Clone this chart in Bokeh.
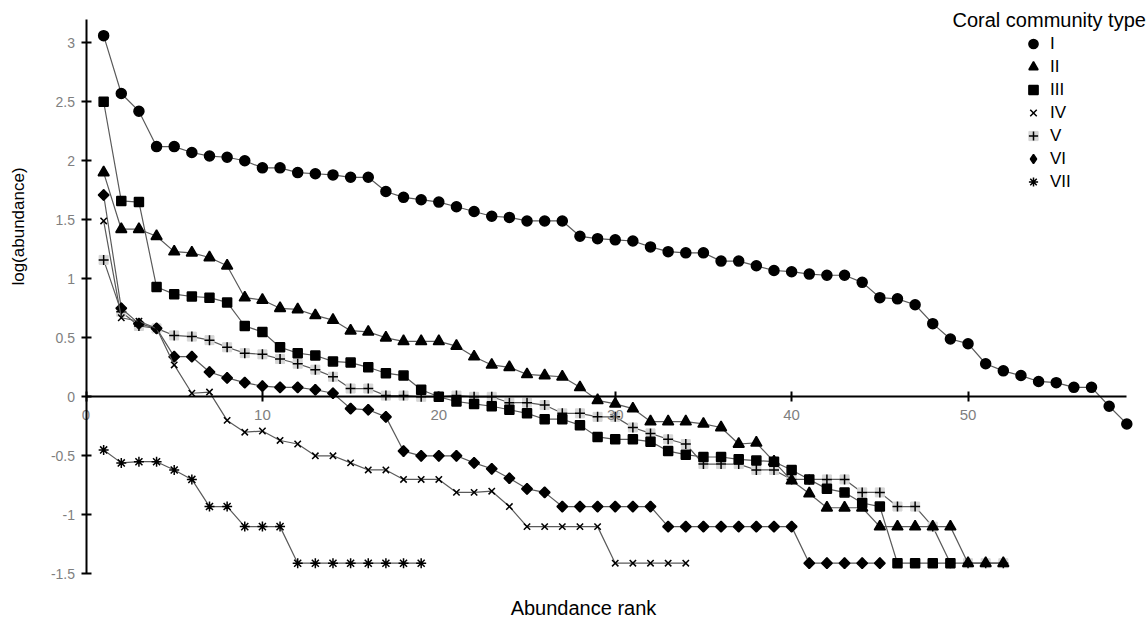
import math
from bokeh.plotting import figure
from bokeh.models import (LinearAxis, FixedTicker, NumeralTickFormatter, Legend,
                          LegendItem, Label)
from bokeh.embed import file_html
from bokeh.resources import INLINE

# ---------------- data ----------------
community_types = ["I", "II", "III", "IV", "V", "VI", "VII"]

log_abund_I = [3.06, 2.57, 2.42, 2.12, 2.12, 2.07, 2.04, 2.03, 2.00, 1.94, 1.94, 1.90, 1.89, 1.88, 1.86, 1.86,
               1.74, 1.69, 1.67, 1.65, 1.61, 1.57, 1.53, 1.52, 1.49, 1.49, 1.49, 1.36, 1.34, 1.33, 1.32, 1.27, 1.23,
               1.22, 1.22, 1.15, 1.15, 1.11, 1.07, 1.06, 1.04, 1.03, 1.03, 0.97, 0.84, 0.83, 0.78, 0.62, 0.49,
               0.45, 0.28, 0.22, 0.18, 0.13, 0.12, 0.08, 0.08, -0.08, -0.23]

log_abund_II = [1.90, 1.42, 1.42, 1.36, 1.23, 1.22, 1.18, 1.11, 0.84, 0.82, 0.75, 0.74, 0.69, 0.65, 0.56, 0.55,
                0.50, 0.47, 0.47, 0.47, 0.43, 0.34, 0.27, 0.25, 0.19, 0.18, 0.17, 0.08, -0.03, -0.06, -0.10,
                -0.21, -0.21, -0.21, -0.23, -0.26, -0.40, -0.39, -0.55, -0.71, -0.82, -0.94, -0.94, -0.94,
                -1.10, -1.10, -1.10, -1.10, -1.10, -1.41, -1.41, -1.41]

log_abund_III = [2.50, 1.66, 1.65, 0.93, 0.87, 0.85, 0.84, 0.80, 0.60, 0.55, 0.42, 0.37, 0.35, 0.30, 0.29, 0.25,
                 0.20, 0.18, 0.06, 0.00, -0.04, -0.06, -0.08, -0.11, -0.14, -0.19, -0.19, -0.24, -0.34, -0.36,
                 -0.36, -0.38, -0.46, -0.49, -0.51, -0.51, -0.53, -0.54, -0.55, -0.62, -0.70, -0.78, -0.81,
                 -0.90, -0.93, -1.41, -1.41, -1.41, -1.41]

log_abund_IV = [1.49, 0.67, 0.64, 0.58, 0.27, 0.03, 0.04, -0.20, -0.30, -0.29, -0.37, -0.40, -0.50, -0.50,
                -0.56, -0.62, -0.62, -0.70, -0.70, -0.70, -0.81, -0.81, -0.80, -0.93, -1.10, -1.10, -1.10,
                -1.10, -1.10, -1.41, -1.41, -1.41, -1.41, -1.41]

log_abund_V = [1.16, 0.72, 0.60, 0.58, 0.52, 0.51, 0.48, 0.42, 0.37, 0.36, 0.32, 0.28, 0.23, 0.17, 0.07, 0.07,
               0.01, 0.01, 0.00, 0.00, 0.01, 0.00, 0.00, -0.05, -0.05, -0.07, -0.14, -0.14, -0.17, -0.17,
               -0.26, -0.31, -0.36, -0.40, -0.57, -0.57, -0.57, -0.62, -0.62, -0.70, -0.70, -0.70, -0.70,
               -0.81, -0.81, -0.93, -0.93, -1.10, -1.41, -1.41, -1.41, -1.41]

log_abund_VI = [1.71, 0.75, 0.62, 0.58, 0.34, 0.34, 0.21, 0.16, 0.12, 0.09, 0.08, 0.08, 0.06, 0.03, -0.10, -0.11,
                -0.17, -0.46, -0.50, -0.50, -0.50, -0.56, -0.61, -0.69, -0.78, -0.81, -0.93, -0.93, -0.93,
                -0.93, -0.93, -0.93, -1.10, -1.10, -1.10, -1.10, -1.10, -1.10, -1.10, -1.10, -1.41, -1.41,
                -1.41, -1.41, -1.41]

log_abund_VII = [-0.45, -0.56, -0.55, -0.55, -0.62, -0.70, -0.93, -0.93, -1.10, -1.10, -1.10,
                 -1.41, -1.41, -1.41, -1.41, -1.41, -1.41, -1.41, -1.41]

y_ticks = [-1.5, -1, -0.5, 0, 0.5, 1, 1.5, 2, 2.5, 3]
x_ticks = [0, 10, 20, 30, 40, 50]

FONT = "Liberation Sans"
LINE_COL = "#5a5a5a"
TICK_COL = "#7f7f7f"

# The frame covers the whole canvas; both axes sit at fixed data locations.
# x: rank 0 at 85.5 px, 17.64 px per rank; y: 0 at 396.3 px, 118 px per unit.
p = figure(width=1148, height=619, x_range=(-4.847, 60.23), y_range=(-1.887, 3.358),
           output_backend="svg", toolbar_location=None,
           x_axis_location=None, y_axis_location=None,
           min_border_left=0, min_border_right=0, min_border_top=0, min_border_bottom=0)
p.outline_line_color = None
p.xgrid.grid_line_color = None
p.ygrid.grid_line_color = None
p.background_fill_color = "white"


def style_axis(ax, label_size, standoff):
    ax.major_label_text_font = FONT
    ax.major_label_text_font_size = label_size
    ax.major_label_text_color = TICK_COL
    ax.major_label_standoff = standoff
    ax.major_tick_in = 5
    ax.major_tick_out = 5
    ax.major_tick_line_width = 2
    ax.major_tick_line_color = "black"
    ax.minor_tick_line_color = None
    ax.axis_line_width = 2
    ax.axis_line_color = "black"


ya = LinearAxis(fixed_location=0, ticker=FixedTicker(ticks=y_ticks),
                formatter=NumeralTickFormatter(format="0.[0]"), bounds=(-1.5, 3.2))
style_axis(ya, "14px", 6)
p.add_layout(ya, "left")

xa = LinearAxis(fixed_location=0, ticker=FixedTicker(ticks=x_ticks),
                formatter=NumeralTickFormatter(format="0"), bounds=(0, 59))
style_axis(xa, "15px", 8)
p.add_layout(xa, "below")

# axis titles
p.add_layout(Label(x=28.2, y=-1.786, text="Abundance rank", text_align="center",
                   text_baseline="middle", text_font=FONT, text_font_size="20px",
                   text_color="black"))
p.add_layout(Label(x=-3.83, y=1.443, text="log(abundance)", angle=math.pi / 2,
                   text_align="center", text_baseline="middle", text_font=FONT,
                   text_font_size="17px", text_color="black"))


def ranks(vals):
    return list(range(1, len(vals) + 1))


renderers = {}

# V (drawn underneath the others)
p.line(ranks(log_abund_V), log_abund_V, line_color=LINE_COL, line_width=1.2)
r_v_box = p.scatter(ranks(log_abund_V), log_abund_V, marker="square", size=9,
                    fill_color="#d6d6d6", line_color="#d6d6d6")
r_v_cross = p.scatter(ranks(log_abund_V), log_abund_V, marker="cross", size=10,
                      line_color="black", line_width=1.5)
renderers["V"] = [r_v_box, r_v_cross]

# VI diamond glyph (used for the legend key; covered by the turned squares below)
r_vi_key = p.scatter(ranks(log_abund_VI), log_abund_VI, marker="diamond", size=10,
                     fill_color="black", line_color="black", line_width=1.5)

specs = [
    ("VII", log_abund_VII, "asterisk", 10, 0.0),
    ("VI", log_abund_VI, "square", 7.5, math.pi / 4),   # square turned 45 deg = diamond
    ("IV", log_abund_IV, "x", 9, 0.0),
    ("II", log_abund_II, "triangle", 11, 0.0),
    ("III", log_abund_III, "square", 9, 0.0),
    ("I", log_abund_I, "circle", 10, 0.0),
]
for name, vals, marker, size, ang in specs:
    p.line(ranks(vals), vals, line_color=LINE_COL, line_width=1.2)
    r = p.scatter(ranks(vals), vals, marker=marker, size=size, angle=ang,
                  fill_color="black", line_color="black", line_width=1.5)
    renderers[name] = [r]

renderers["VI"] = [r_vi_key]

items = [LegendItem(label=t, renderers=renderers[t]) for t in community_types]
legend = Legend(items=items, location=(1016, 426),
                glyph_width=34, glyph_height=23, label_standoff=0, spacing=0,
                padding=0, margin=0, border_line_color=None, background_fill_alpha=0,
                label_text_font=FONT, label_text_font_size="17px", label_height=23,
                label_text_color="black")
p.add_layout(legend)

p.add_layout(Label(x=49.12, y=3.19, text="Coral community type", text_align="left",
                   text_baseline="middle", text_font=FONT, text_font_size="20px",
                   text_color="black"))

open("out.html", "w").write(file_html(p, INLINE))
